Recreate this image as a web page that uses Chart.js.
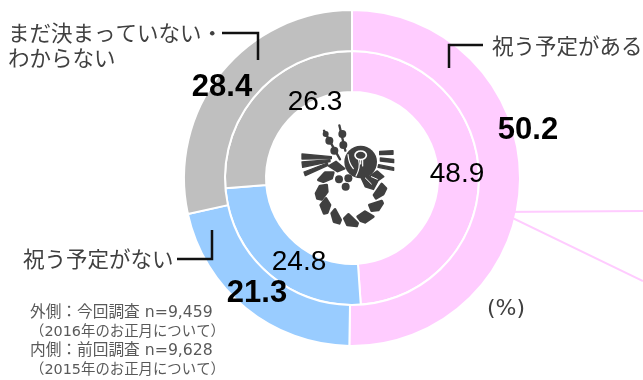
<!DOCTYPE html>
<html lang="ja">
<head>
<meta charset="utf-8">
<script src="https://cdn.jsdelivr.net/npm/chart.js@4"></script>
<style>
html, body { margin: 0; padding: 0; background: #fff; }
canvas { display: block; }
</style>
</head>
<body>
<canvas id="chart_oshogatsu" width="643" height="380"></canvas>
<script>
//Survey answers, outer ring = this year, inner ring = last year
var categories = ["祝う予定がある", "祝う予定がない", "まだ決まっていない・わからない"];
var outerValues = [50.2, 21.3, 28.4];
var innerValues = [48.9, 24.8, 26.3];
var sliceColors = ["#FFCCFF", "#99CCFF", "#BFBFBF"];

var NUMBER_FONT = '"Liberation Sans", "Noto Sans CJK JP", sans-serif';
var CAPTION_FONT = '"DejaVu Sans", "Noto Sans CJK JP", sans-serif';
var JP_FONT = '"Noto Sans CJK JP", sans-serif';

//where the printed numbers sit, same order as the values
var outerLabelPos = [[528, 130], [257, 293], [222, 87]];
var innerLabelPos = [[457, 174], [299, 262], [315, 102]];

//black leader lines next to the category names
var leaders = [
    [[449, 68], [449, 45], [483, 45]],
    [[177, 259], [212, 259], [212, 230]],
    [[222, 33], [258, 33], [258, 60]]
];

//text blocks: text, x, y, size, align, font, colour
var captions = [
    ["祝う予定がある", 492, 46, 21.5, "left", JP_FONT, "#404040"],
    ["祝う予定がない", 23, 259, 21.5, "left", JP_FONT, "#404040"],
    ["まだ決まっていない・", 8, 33, 21.5, "left", JP_FONT, "#404040"],
    ["わからない", 8, 58, 21.5, "left", JP_FONT, "#404040"],
    ["(%)", 506, 309, 22, "center", CAPTION_FONT, "#404040"],
    ["外側：今回調査 n=9,459", 30, 313, 15.7, "left", CAPTION_FONT, "#595959"],
    ["（2016年のお正月について）", 30, 332, 14.4, "left", CAPTION_FONT, "#595959"],
    ["内側：前回調査 n=9,628", 30, 351, 15.7, "left", CAPTION_FONT, "#595959"],
    ["（2015年のお正月について）", 30, 370, 14.4, "left", CAPTION_FONT, "#595959"]
];

function blob(ctx, pts) {
    ctx.beginPath();
    pts.forEach(function (p, i) {
        if (i === 0) { ctx.moveTo(p[0], p[1]); } else { ctx.lineTo(p[0], p[1]); }
    });
    ctx.closePath();
    ctx.fill();
    ctx.stroke();
}

function dot(ctx, x, y, r) {
    ctx.beginPath();
    ctx.arc(x, y, r, 0, Math.PI * 2);
    ctx.fill();
}

//family crest in the middle of the doughnut
function drawCrest(ctx) {
    ctx.save();
    ctx.translate(290, 110);
    ctx.scale(1 / 3, 1 / 3);
    ctx.fillStyle = "#404040";
    ctx.strokeStyle = "#404040";
    ctx.lineCap = "round";
    ctx.lineJoin = "round";

    //stems with beads
    ctx.lineWidth = 7;
    ctx.beginPath();
    ctx.moveTo(102, 62); ctx.lineTo(150, 148);
    ctx.moveTo(148, 46); ctx.lineTo(166, 122);
    ctx.stroke();
    [[107, 72, 9], [118, 92, 12], [133, 122, 12], [157, 72, 12], [160, 105, 12]].forEach(function (b) {
        dot(ctx, b[0], b[1], b[2]);
    });

    //left and right rays
    ctx.lineWidth = 4;
    blob(ctx, [[36, 132], [124, 140], [124, 146], [36, 147]]);
    blob(ctx, [[36, 156], [120, 149], [120, 155], [38, 172]]);
    blob(ctx, [[42, 186], [112, 159], [114, 166], [46, 197]]);
    blob(ctx, [[269, 124], [309, 122], [309, 133], [269, 134]]);
    blob(ctx, [[271, 144], [311, 148], [311, 158], [271, 153]]);
    blob(ctx, [[266, 164], [311, 173], [311, 181], [264, 172]]);

    //flower head with its white petal lines
    dot(ctx, 212, 156, 49);
    ctx.strokeStyle = "#fff";
    ctx.lineWidth = 5;
    ctx.beginPath();
    ctx.ellipse(212, 136, 17, 13, 0, 0, Math.PI * 2);
    ctx.stroke();
    ctx.lineWidth = 3.5;
    ctx.beginPath();
    ctx.moveTo(206, 150);
    ctx.quadraticCurveTo(212, 172, 198, 198);
    ctx.moveTo(218, 150);
    ctx.lineTo(218, 168);
    ctx.moveTo(212, 150);
    ctx.lineTo(212, 162);
    ctx.moveTo(174, 134);
    ctx.quadraticCurveTo(176, 160, 190, 176);
    ctx.stroke();
    ctx.strokeStyle = "#404040";

    //leaves under the flower
    ctx.lineWidth = 5;
    blob(ctx, [[214, 204], [240, 198], [262, 183], [281, 200], [264, 212], [250, 238], [226, 230]]);
    blob(ctx, [[116, 168], [138, 154], [164, 176], [142, 185]]);
    ctx.strokeStyle = "#fff";
    ctx.lineWidth = 3;
    ctx.beginPath();
    ctx.moveTo(226, 204);
    ctx.lineTo(244, 222);
    ctx.moveTo(244, 200);
    ctx.lineTo(262, 208);
    ctx.stroke();
    ctx.strokeStyle = "#404040";

    //three berries
    dot(ctx, 147, 208, 12);
    dot(ctx, 175, 205, 12);
    dot(ctx, 167, 230, 12);

    //rope segments going round
    var rope = [
        [[85, 210], [105, 188], [130, 188], [125, 205], [100, 215]],
        [[78, 250], [90, 228], [110, 225], [112, 245], [95, 268], [82, 265]],
        [[92, 285], [108, 265], [120, 285], [112, 308], [102, 310]],
        [[125, 310], [135, 298], [152, 330], [148, 340], [132, 335]],
        [[163, 325], [175, 313], [203, 340], [200, 348], [172, 345]],
        [[203, 320], [225, 305], [250, 320], [225, 337], [212, 332]],
        [[238, 285], [275, 273], [278, 280], [265, 300], [245, 302]],
        [[252, 255], [275, 222], [288, 235], [280, 252], [258, 265]]
    ];
    ctx.lineWidth = 8;
    rope.forEach(function (r) { blob(ctx, r); });
    ctx.restore();
}

//draws the pink callout, leaders, captions and the numbers on top of the rings
var annotationPlugin = {
    id: "annotations",
    afterDraw: function (chart) {
        var ctx = chart.ctx;
        ctx.save();

        ctx.strokeStyle = "#FFCCFF";
        ctx.lineWidth = 2;
        ctx.beginPath();
        ctx.moveTo(643, 211);
        ctx.lineTo(500, 212);
        ctx.lineTo(643, 281);
        ctx.stroke();

        ctx.strokeStyle = "#111";
        ctx.lineWidth = 2.5;
        leaders.forEach(function (line) {
            ctx.beginPath();
            line.forEach(function (p, i) {
                if (i === 0) { ctx.moveTo(p[0], p[1]); } else { ctx.lineTo(p[0], p[1]); }
            });
            ctx.stroke();
        });

        ctx.textBaseline = "middle";
        captions.forEach(function (c) {
            ctx.font = c[3] + "px " + c[5];
            ctx.textAlign = c[4];
            ctx.fillStyle = c[6];
            ctx.fillText(c[0], c[1], c[2]);
        });

        ctx.textAlign = "center";
        ctx.fillStyle = "#000";
        ctx.font = "bold 31px " + NUMBER_FONT;
        outerValues.forEach(function (v, i) {
            ctx.fillText(v.toFixed(1), outerLabelPos[i][0], outerLabelPos[i][1]);
        });
        ctx.font = "28px " + NUMBER_FONT;
        innerValues.forEach(function (v, i) {
            ctx.fillText(v.toFixed(1), innerLabelPos[i][0], innerLabelPos[i][1]);
        });

        drawCrest(ctx);
        ctx.restore();
    }
};

var ctxRing = document.getElementById("chart_oshogatsu").getContext("2d");
var chartRing = new Chart(ctxRing, {
    type: "doughnut",
    data: {
        labels: categories,
        //the first dataset is the outermost ring
        datasets: [{
            label: "今回調査",
            data: outerValues,
            backgroundColor: sliceColors,
            borderColor: "#fff",
            borderWidth: 2
        }, {
            label: "前回調査",
            data: innerValues,
            backgroundColor: sliceColors,
            borderColor: "#fff",
            borderWidth: 2
        }]
    },
    options: {
        responsive: false,
        animation: false,
        cutout: 86,
        layout: { padding: { left: 183, right: 122, top: 9, bottom: 33 } },
        plugins: {
            legend: { display: false },
            tooltip: { enabled: false }
        }
    },
    plugins: [annotationPlugin]
});
</script>
</body>
</html>
